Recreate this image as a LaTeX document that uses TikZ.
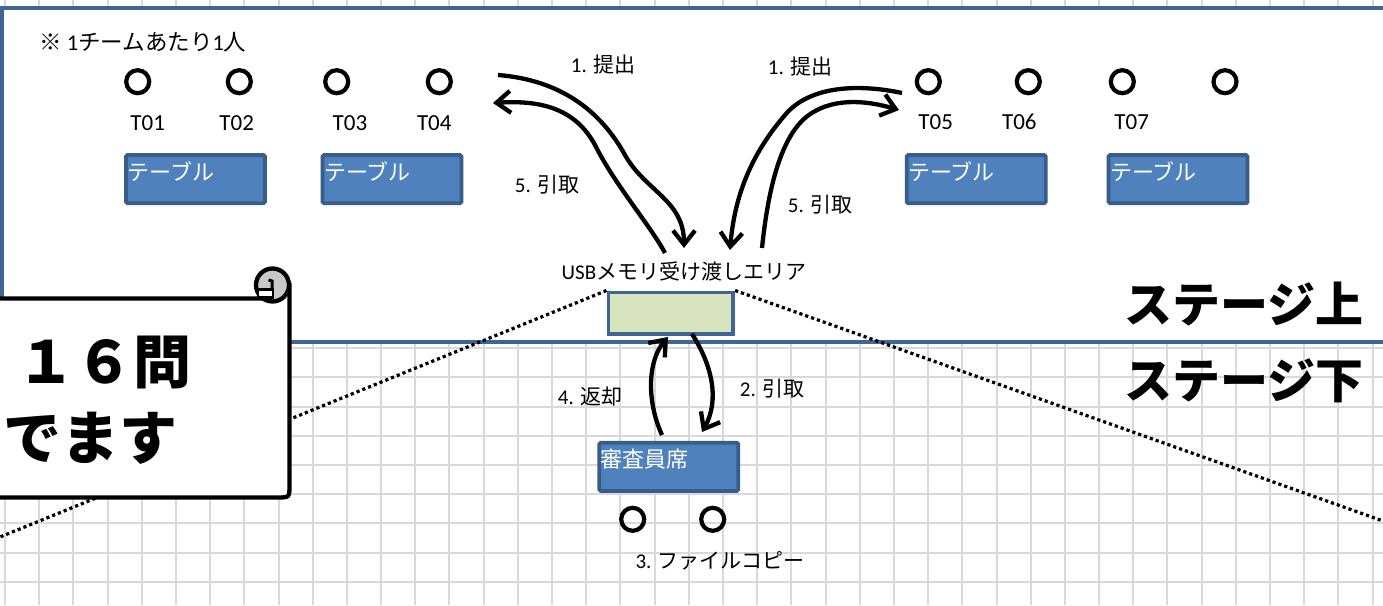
\documentclass[tikz,border=0pt]{standalone}
\usepackage{fontspec}
\setmainfont{Carlito}
\newfontfamily\jp{Noto Sans CJK JP}
\usetikzlibrary{arrows.meta}
\definecolor{stageblue}{HTML}{3F6597}
\definecolor{tablefill}{HTML}{4F81BD}
\definecolor{tableline}{HTML}{385D8A}
\definecolor{usbfill}{HTML}{D7E4BD}
\definecolor{gridgray}{HTML}{D9D9D9}
\definecolor{curlgray}{HTML}{C8C8C8}
\tikzset{
  gridline/.style={draw=gridgray, line width=2},
  stage/.style={draw=stageblue, fill=white, line width=3.8},
  seat/.style={circle, draw, line width=4.2, minimum size=23, inner sep=0},
  seatlbl/.style={font=\fontsize{23}{27}\selectfont, inner sep=0},
  tbl/.style={draw=tableline, fill=tablefill, line width=3.8, rounded corners=1.5,
    text=white, font=\jp\fontsize{22}{26}\selectfont, align=left, text width=136,
    inner xsep=1.5, inner ysep=0, text height=25, text depth=23.2},
  usbbox/.style={draw=stageblue, fill=usbfill, line width=3.8, minimum width=124.8,
    minimum height=41.8, inner sep=0},
  dots/.style={line width=3.2, dash pattern=on 3.2pt off 3pt},
  flow/.style={line width=4.3},
  lbl/.style={font=\fontsize{21}{25}\selectfont, inner sep=0},
  big/.style={font=\jp\bfseries\fontsize{58}{64}\selectfont, inner sep=0},
  stagelbl/.style={font=\jp\bfseries\fontsize{48}{54}\selectfont, inner sep=0},
  callout/.style={draw, fill=white, line width=4.3}
}
\begin{document}
\begin{tikzpicture}[x=1pt, y=-1pt, >={Straight Barb[length=14pt,width=22pt]}]
  \useasboundingbox (0,0) rectangle (1383,605);
  \clip (0,0) rectangle (1383,605);

  % background grid
  \foreach \i in {0,...,40}
    \draw[gridline] ({5+34.19*\i},0) -- ({5+34.19*\i},605);
  \foreach \j in {0,...,8}
    \draw[gridline] (0,{581.7-29.2*\j}) -- (1383,{581.7-29.2*\j});

  % stage
  \draw[stage] (1.7,8) rectangle (1420,342);

  \node[usbbox] (usb) at (670.8,313.3) {};
  \node[lbl] (usblbl) at (684,271) {USB{\jp メモリ受け渡しエリア}};

  \coordinate (viewl) at (0,537);
  \coordinate (viewr) at (1383,521);
  \draw[dots] (usb.north west) -- (viewl);
  \draw[dots] (usb.north east) -- (viewr);

  % tables and seats
  \node[tbl] (tbl1) at (195.5,179.2) {テーブル};
  \node[tbl] (tbl2) at (392,179.2) {テーブル};
  \node[tbl] (tbl3) at (976.2,179.2) {テーブル};
  \node[tbl] (tbl4) at (1178,179.2) {テーブル};

  \node[seat] (s1) at (137.7,81.7) {};
  \node[seat] (s2) at (239.3,81.7) {};
  \node[seat] (s3) at (336.7,81.7) {};
  \node[seat] (s4) at (439.3,81.7) {};
  \node[seat] (s5) at (928.3,81.7) {};
  \node[seat] (s6) at (1028.3,81.7) {};
  \node[seat] (s7) at (1122.3,81.7) {};
  \node[seat] (s8) at (1225,81.7) {};

  \node[seatlbl] (t01) at (147.7,123) {T01};
  \node[seatlbl] (t02) at (236.7,123) {T02};
  \node[seatlbl] (t03) at (350,123) {T03};
  \node[seatlbl] (t04) at (434.3,123) {T04};
  \node[seatlbl] (t05) at (935.7,122) {T05};
  \node[seatlbl] (t06) at (1019.3,122) {T06};
  \node[seatlbl] (t07) at (1131.7,122) {T07};

  \node[lbl, font=\fontsize{22.5}{26}\selectfont, anchor=west] (note) at (39,42)
    {{\jp ※} 1{\jp チームあたり}1{\jp 人}};

  % hand over on stage
  \coordinate (lsubA) at (498,75);
  \coordinate (lsubB) at (684,248);
  \coordinate (lretA) at (665,253);
  \coordinate (lretB) at (493,103);
  \coordinate (rsubA) at (902,93);
  \coordinate (rsubB) at (730,250);
  \coordinate (rretA) at (762,248);
  \coordinate (rretB) at (899,110);

  \draw[flow,->] (lsubA) .. controls (560,80) and (600,110) .. (625,155)
    .. controls (645,191) and (684,200) .. (lsubB);
  \draw[flow,->] (lretA) .. controls (650,225) and (615,185) .. (595,145)
    .. controls (575,108) and (540,100) .. (lretB);
  \draw[flow,->] (rsubA) .. controls (860,84) and (810,85) .. (785,115)
    .. controls (755,150) and (735,190) .. (rsubB);
  \draw[flow,->] (rretA) .. controls (768,190) and (780,140) .. (805,118)
    .. controls (830,97) and (865,100) .. (rretB);

  \node[lbl] (lsub) at (603,65) {1. {\jp 提出}};
  \node[lbl] (lret) at (547,185) {5. {\jp 引取}};
  \node[lbl] (rsub) at (800,67) {1. {\jp 提出}};
  \node[lbl] (rret) at (820,205) {5. {\jp 引取}};

  % judges below stage
  \node[tbl] (judge) at (668.8,466.8) {審査員席};
  \node[seat] (j1) at (632.7,519.3) {};
  \node[seat] (j2) at (712.7,519.3) {};
  \node[lbl] (copy) at (720,561) {3. {\jp ファイルコピー}};

  \coordinate (backA) at (662,435);
  \coordinate (backB) at (668,337);
  \coordinate (takeA) at (692,334);
  \coordinate (takeB) at (702,432);
  \draw[flow,->] (backA) .. controls (646,400) and (648,360) .. (backB);
  \draw[flow,->] (takeA) .. controls (712,365) and (720,400) .. (takeB);
  \node[lbl] (back) at (590,397) {4. {\jp 返却}};
  \node[lbl] (take) at (772,389) {2. {\jp 引取}};

  \node[stagelbl] (up) at (1244,304) {ステージ上};
  \node[stagelbl] (down) at (1244,381) {ステージ下};

  % scroll callout
  \draw[callout] (-20,298.5) -- (272,298.5) -- (272,285) -- (289.5,285) -- (289.5,485)
    .. controls (289.5,497.5) .. (277,497.5) -- (-20,497.5) -- cycle;
  \draw[callout, fill=curlgray] (272.5,285) circle (16.5);
  \draw[line width=2.5, fill=white] (258,289.5) rectangle (273,297.5);
  \draw[line width=3] (272,289.5) -- (272,281) -- (268.5,280);
  \node[big, anchor=east] (q1) at (192,362) {１６問};
  \node[big, anchor=east] (q2) at (178,438) {でます};
\end{tikzpicture}
\end{document}
